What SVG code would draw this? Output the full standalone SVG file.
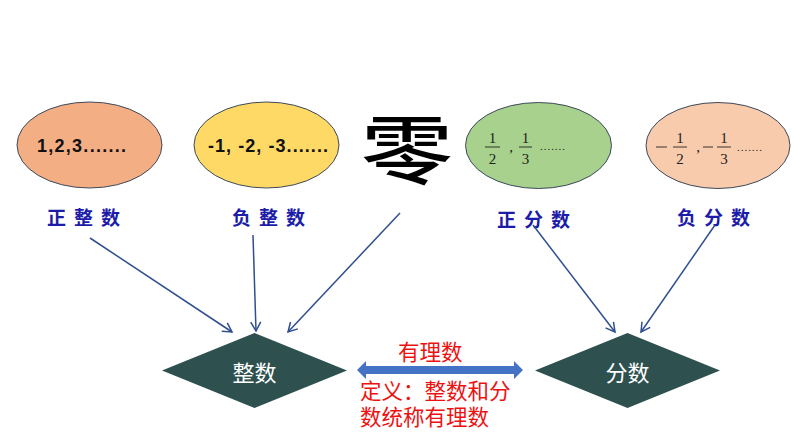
<svg xmlns="http://www.w3.org/2000/svg" width="794" height="447" viewBox="0 0 794 447">
<style>
  .ell { stroke: #3d4a5c; stroke-width: 1; }
  .num { font-family: "Liberation Sans", Arial, sans-serif; font-weight: bold; font-size: 18px; fill: #111; }
  .frac { font-family: "Liberation Serif", "Times New Roman", serif; font-size: 15px; fill: #222; text-anchor: middle; }
  .bar { stroke: #222; stroke-width: 0.9; }
  .dots { font-family: "Liberation Serif", serif; font-size: 11px; fill: #222; }
  .lbl { font-family: "Noto Sans CJK SC", sans-serif; font-weight: bold; font-size: 19px; fill: #1c1ca8; letter-spacing: 8px; }
  .dia { fill: #2e5150; }
  .dlbl { font-family: "Noto Sans CJK SC", sans-serif; font-size: 22px; fill: #ffffff; text-anchor: middle; }
  .red { font-family: "Noto Sans CJK SC", sans-serif; font-size: 21.5px; fill: #ee1111; }
  .con { stroke: #2f4f8f; stroke-width: 1.5; fill: none; marker-end: url(#ah); }
</style>
<defs>
  <marker id="ah" markerWidth="12" markerHeight="12" viewBox="-10 -6 12 12" refX="0" refY="0" orient="auto" markerUnits="userSpaceOnUse">
    <polyline points="-9,-5 0,0 -9,5" fill="none" stroke="#2f4f8f" stroke-width="1.5"/>
  </marker>
</defs>
<rect width="794" height="447" fill="#ffffff"/>

<g id="node-pos-int">
  <ellipse class="ell" cx="89.5" cy="145" rx="72.5" ry="43" fill="#f4ae84"/>
  <text class="num" x="37" y="152" textLength="89" lengthAdjust="spacing">1,2,3.......</text>
  <text class="lbl" x="47" y="225">正整数</text>
</g>

<g id="node-neg-int">
  <ellipse class="ell" cx="266.5" cy="145" rx="72.5" ry="43" fill="#fed966"/>
  <text class="num" x="208" y="152" textLength="120" lengthAdjust="spacing">-1, -2, -3.......</text>
  <text class="lbl" x="232" y="225">负整数</text>
</g>

<g id="node-zero">
  <text x="407" y="181" font-family="Noto Sans CJK SC, sans-serif" font-weight="500" font-size="82" fill="#000" text-anchor="middle" transform="translate(407 148) scale(1.12 0.92) translate(-407 -148)">零</text>
</g>

<g id="node-pos-frac">
  <ellipse class="ell" cx="538.5" cy="145.5" rx="73" ry="43" fill="#a9d18e"/>
  <text class="frac" x="492.5" y="143">1</text>
  <line class="bar" x1="485" y1="147" x2="500" y2="147"/>
  <text class="frac" x="492.5" y="164">2</text>
  <text class="frac" x="511" y="152">,</text>
  <text class="frac" x="525.5" y="143">1</text>
  <line class="bar" x1="519" y1="147" x2="532" y2="147"/>
  <text class="frac" x="525.5" y="164">3</text>
  <text class="dots" x="540" y="150" textLength="25" lengthAdjust="spacing">.......</text>
  <text class="lbl" x="497" y="227">正分数</text>
</g>

<g id="node-neg-frac">
  <ellipse class="ell" cx="718" cy="145.5" rx="72" ry="43" fill="#f8cbad"/>
  <line class="bar" x1="656" y1="147" x2="667" y2="147"/>
  <text class="frac" x="680" y="143">1</text>
  <line class="bar" x1="673" y1="147" x2="687" y2="147"/>
  <text class="frac" x="680" y="164">2</text>
  <text class="frac" x="698" y="152">,</text>
  <line class="bar" x1="703" y1="147" x2="713" y2="147"/>
  <text class="frac" x="724" y="143">1</text>
  <line class="bar" x1="717" y1="147" x2="731" y2="147"/>
  <text class="frac" x="724" y="164">3</text>
  <text class="dots" x="737" y="151" textLength="25" lengthAdjust="spacing">.......</text>
  <text class="lbl" x="677" y="225">负分数</text>
</g>

<g id="node-integer">
  <polygon class="dia" points="162,370.5 254.5,333 347,370.5 254.5,408"/>
  <text class="dlbl" x="254.5" y="381">整数</text>
</g>

<g id="node-fraction">
  <polygon class="dia" points="535,370.5 627.5,333 720,370.5 627.5,408"/>
  <text class="dlbl" x="627.5" y="381">分数</text>
</g>

<g id="node-rational">
  <polygon points="357,370 366,361 366,366 514,366 514,361 523,370 514,379 514,374 366,374 366,379" fill="#4472c4"/>
  <text class="red" x="398" y="360">有理数</text>
  <text class="red"><tspan x="360" y="399">定义：整数和分</tspan><tspan x="360" y="425">数统称有理数</tspan></text>
</g>

<g id="connectors">
  <line class="con" x1="90" y1="238" x2="232" y2="332"/>
  <line class="con" x1="253" y1="235" x2="256" y2="331"/>
  <line class="con" x1="400" y1="213" x2="288" y2="332"/>
  <line class="con" x1="533" y1="225" x2="615" y2="332"/>
  <line class="con" x1="715" y1="225" x2="641" y2="332"/>
</g>
</svg>
